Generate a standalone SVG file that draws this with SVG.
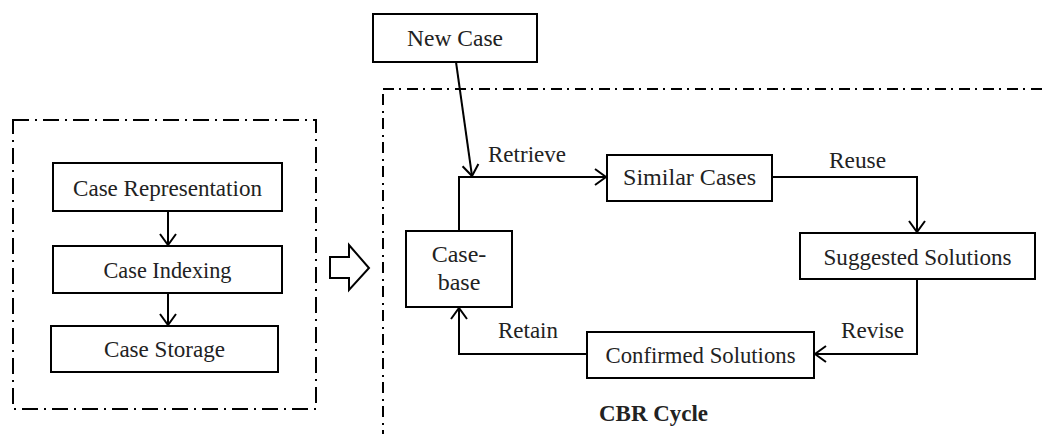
<svg xmlns="http://www.w3.org/2000/svg" width="1043" height="434" viewBox="0 0 1043 434">
<style>
.box{fill:#fff;stroke:#000;stroke-width:2}
.t{font-family:"Liberation Serif","Times New Roman",serif;font-size:24px;fill:#222;text-anchor:middle}
.lb{font-family:"Liberation Serif","Times New Roman",serif;font-size:24px;fill:#222}
.c{fill:none;stroke:#000;stroke-width:2}
.dl{fill:none;stroke:#000;stroke-width:2;stroke-dasharray:16 6 2 6}
.dr{fill:none;stroke:#000;stroke-width:2;stroke-dasharray:11 5 2 6}
</style>
<defs>
<marker id="ah" markerUnits="userSpaceOnUse" viewBox="-12 -9 14 18" refX="0" refY="0" markerWidth="14" markerHeight="18" orient="auto" overflow="visible">
<path d="M-11,-8 L0,0 L-11,8" fill="none" stroke="#000" stroke-width="2"/>
</marker>
</defs>
<rect width="1043" height="434" fill="#fff"/>
<g id="frames">
<rect class="dl" x="13" y="120" width="303" height="289"/>
<rect class="dr" x="383" y="89" width="700" height="400"/>
</g>
<g id="block-arrow">
<polygon points="330,257 349,257 349,245 369,268 349,290 349,278 330,278" fill="#fff" stroke="#000" stroke-width="2"/>
</g>
<g id="connectors">
<line class="c" x1="168" y1="211" x2="168" y2="245" marker-end="url(#ah)"/>
<line class="c" x1="168" y1="293" x2="168" y2="325" marker-end="url(#ah)"/>
<line class="c" x1="456" y1="62" x2="472" y2="176" marker-end="url(#ah)"/>
<polyline class="c" points="459,231 459,177 606,177" marker-end="url(#ah)"/>
<polyline class="c" points="772,177 917,177 917,232" marker-end="url(#ah)"/>
<polyline class="c" points="917,279 917,354 815,354" marker-end="url(#ah)"/>
<polyline class="c" points="587,354 459,354 459,308" marker-end="url(#ah)"/>
</g>
<g id="case-representation">
<rect class="box" x="53" y="163" width="229" height="48"/>
<text class="t" x="167.5" y="196" textLength="189" lengthAdjust="spacingAndGlyphs">Case Representation</text>
</g>
<g id="case-indexing">
<rect class="box" x="53" y="246" width="229" height="47"/>
<text class="t" x="167.5" y="278" textLength="128" lengthAdjust="spacingAndGlyphs">Case Indexing</text>
</g>
<g id="case-storage">
<rect class="box" x="51" y="326" width="227" height="46"/>
<text class="t" x="164.5" y="357" textLength="121" lengthAdjust="spacingAndGlyphs">Case Storage</text>
</g>
<g id="new-case">
<rect class="box" x="373" y="14" width="164" height="48"/>
<text class="t" x="455" y="46" textLength="96" lengthAdjust="spacingAndGlyphs">New Case</text>
</g>
<g id="case-base">
<rect class="box" x="406" y="231" width="106" height="76"/>
<text class="t" x="459" y="262">Case-</text>
<text class="t" x="459" y="290">base</text>
</g>
<g id="similar-cases">
<rect class="box" x="607" y="155" width="165" height="46"/>
<text class="t" x="689.5" y="185" textLength="133" lengthAdjust="spacingAndGlyphs">Similar Cases</text>
</g>
<g id="suggested-solutions">
<rect class="box" x="800" y="233" width="235" height="46"/>
<text class="t" x="917.5" y="265" textLength="188" lengthAdjust="spacingAndGlyphs">Suggested Solutions</text>
</g>
<g id="confirmed-solutions">
<rect class="box" x="587" y="332" width="227" height="46"/>
<text class="t" x="700.5" y="363" textLength="190" lengthAdjust="spacingAndGlyphs">Confirmed Solutions</text>
</g>
<g id="labels">
<text class="lb" x="488" y="162" textLength="78" lengthAdjust="spacingAndGlyphs">Retrieve</text>
<text class="lb" x="829" y="168" textLength="57" lengthAdjust="spacingAndGlyphs">Reuse</text>
<text class="lb" x="841" y="338" textLength="63" lengthAdjust="spacingAndGlyphs">Revise</text>
<text class="lb" x="498" y="338" textLength="60" lengthAdjust="spacingAndGlyphs">Retain</text>
<text class="lb" x="599" y="421" font-weight="bold" font-size="22" textLength="109" lengthAdjust="spacingAndGlyphs">CBR Cycle</text>
</g>
</svg>
